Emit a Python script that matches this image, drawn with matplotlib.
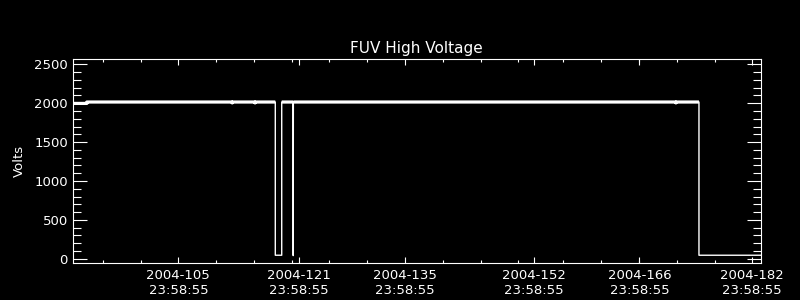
import numpy as np
import matplotlib
matplotlib.use("Agg")
import matplotlib.pyplot as plt
from matplotlib.ticker import MultipleLocator

# FUV high voltage trace, time in fractional day-of-year 2004
days = [91.03, 92.9, 92.9, 112.10, 112.13, 112.16, 115.12, 115.15, 115.18,
        117.83, 117.83, 118.68, 118.68, 120.18, 120.20, 120.22,
        170.80, 170.83, 170.86, 173.88, 173.88, 182.05]
volts = [1997, 1997, 2015, 2015, 2003, 2015, 2015, 2003, 2015,
         2015, 45, 45, 2015, 2015, 40, 2015,
         2015, 2003, 2015, 2015, 45, 45]

major_days = [105, 121, 135, 152, 166, 180.93]
major_labels = ['2004-105\n23:58:55', '2004-121\n23:58:55', '2004-135\n23:58:55',
                '2004-152\n23:58:55', '2004-166\n23:58:55', '2004-182\n23:58:55']
minor_days = [95, 100, 105, 110, 115, 120, 125, 130, 135, 140, 145, 150,
              155.93, 160.95, 165.98, 171, 176.03, 180.93]

plt.rcParams['font.family'] = ['DejaVu Sans']

fig = plt.figure(figsize=(8, 3), dpi=100, facecolor='black')
ax = fig.add_axes([0.0909, 0.1233, 0.86, 0.68])
ax.set_facecolor('black')

t = np.array(days)
v = np.array(volts, dtype=float)
ax.plot(t, v, color='white', linewidth=1.0)
# the plateau looks thicker because of the jitter around 2000 V
ax.plot(t, np.where(v > 1000, v, np.nan), color='white', linewidth=2.3,
        solid_capstyle='butt')

ax.set_xlim(91.03, 182.05)
ax.set_ylim(-55, 2568)

ax.set_xticks(major_days, major_labels)
ax.set_xticks(minor_days, minor=True)
ax.yaxis.set_major_locator(MultipleLocator(500))
ax.yaxis.set_minor_locator(MultipleLocator(100))

for s in ax.spines.values():
    s.set_color('white')
    s.set_linewidth(0.8)

ax.tick_params(axis='both', which='both', direction='in', colors='white',
               top=True, right=True, width=0.8, labelsize=9.5)
ax.tick_params(axis='x', which='major', length=4.5, pad=4.5)
ax.tick_params(axis='x', which='minor', length=2.5)
ax.tick_params(axis='y', which='major', length=10.3, pad=3.5)
ax.tick_params(axis='y', which='minor', length=5.5)

ax.set_title('FUV High Voltage', color='white', fontsize=11, pad=4)
ax.set_ylabel('Volts', color='white', fontsize=9.5, labelpad=6)

fig.savefig('out.png', dpi=100, facecolor='black')
